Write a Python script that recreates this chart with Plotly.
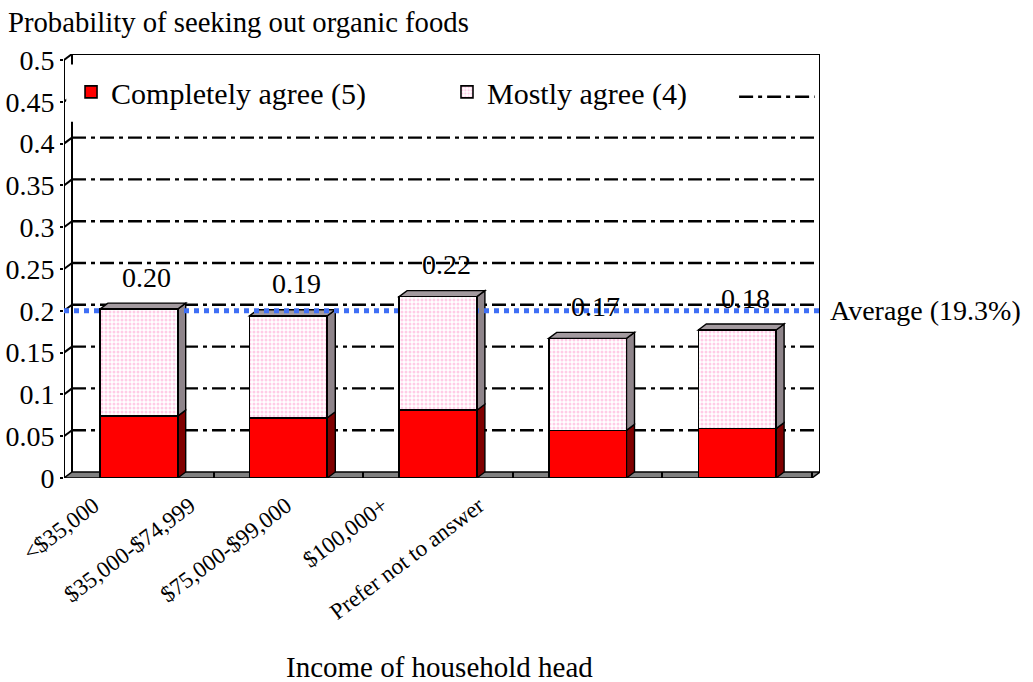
import plotly.graph_objects as go

# Income groups and the two stacked agreement shares
categories = ["<$35,000", "$35,000-$74,999", "$75,000-$99,000", "$100,000+", "Prefer not to answer"]
completely_agree = [0.074, 0.072, 0.081, 0.057, 0.059]
mostly_agree = [0.128, 0.122, 0.136, 0.110, 0.118]
average_share = 0.193
y_ticks = [0, 0.05, 0.1, 0.15, 0.2, 0.25, 0.3, 0.35, 0.4, 0.45, 0.5]

FONT = "Liberation Serif, Times New Roman, serif"
RED = "#FF0000"
PINK_DOT = "#FF9ACD"
BLUE = "#3F6FF5"

# depth of the pseudo-3D box (axis units)
DX = 0.0535
DY = 0.0072
BAR_W = 0.52

n = len(categories)
xs = list(range(n))
totals = [a + b for a, b in zip(completely_agree, mostly_agree)]

fig = go.Figure()

fig.add_trace(go.Bar(
    x=xs, y=completely_agree, width=BAR_W, name="Completely agree (5)",
    marker=dict(color=RED, line=dict(color="black", width=1.6)),
    hoverinfo="skip", legend="legend",
))
fig.add_trace(go.Bar(
    x=xs, y=mostly_agree, width=BAR_W, name="Mostly agree (4)",
    marker=dict(color="white", line=dict(color="black", width=1.6),
                pattern=dict(shape=".", fgcolor=PINK_DOT, bgcolor="white",
                             size=4, solidity=0.45)),
    hoverinfo="skip", legend="legend2",
))
# carrier for the slanted category labels
fig.add_trace(go.Scatter(
    x=xs, y=[0] * n, xaxis="x2", mode="markers",
    marker=dict(opacity=0), showlegend=False, hoverinfo="skip",
))

shapes = []
dashdot = "14px,5px,4px,5px"

# back-wall gridlines and their slant across the left wall
for v in y_ticks[1:-1]:
    shapes.append(dict(type="line", layer="below", xref="x", yref="y",
                       x0=-0.5 + DX, x1=n - 0.5 + DX, y0=v + DY, y1=v + DY,
                       line=dict(color="black", width=2.4, dash=dashdot)))
    shapes.append(dict(type="line", layer="below", xref="x", yref="y",
                       x0=-0.5, x1=-0.5 + DX, y0=v, y1=v + DY,
                       line=dict(color="black", width=2)))

# floor
shapes.append(dict(type="path", layer="below", xref="x", yref="y",
                   path=f"M{-0.5},{0} L{n - 0.5},{0} L{n - 0.5 + DX},{DY} L{-0.5 + DX},{DY} Z",
                   fillcolor="#808080", line=dict(color="black", width=1.5)))

# box frame: left wall, back-top and back-right edges
frame = [
    (-0.5, 0, -0.5, y_ticks[-1]),
    (-0.5 + DX, DY, -0.5 + DX, y_ticks[-1] + DY),
    (-0.5, y_ticks[-1], -0.5 + DX, y_ticks[-1] + DY),
    (-0.5 + DX, y_ticks[-1] + DY, n - 0.5 + DX, y_ticks[-1] + DY),
    (n - 0.5 + DX, DY, n - 0.5 + DX, y_ticks[-1] + DY),
]
for x0, y0, x1, y1 in frame:
    shapes.append(dict(type="line", layer="below", xref="x", yref="y",
                       x0=x0, y0=y0, x1=x1, y1=y1,
                       line=dict(color="black", width=2)))

# side and top faces of each bar
for i in xs:
    xl, xr = i - BAR_W / 2, i + BAR_W / 2
    lo, mid, top = 0, completely_agree[i], totals[i]
    for y0, y1, col in [(lo, mid, "#800000"), (mid, top, "#8E848A")]:
        shapes.append(dict(type="path", layer="below", xref="x", yref="y",
                           path=f"M{xr},{y0} L{xr + DX},{y0 + DY} L{xr + DX},{y1 + DY} L{xr},{y1} Z",
                           fillcolor=col, line=dict(color="black", width=1.4)))
    shapes.append(dict(type="path", layer="below", xref="x", yref="y",
                       path=f"M{xl},{top} L{xl + DX},{top + DY} L{xr + DX},{top + DY} L{xr},{top} Z",
                       fillcolor="#A39A9F", line=dict(color="black", width=1.4)))

# average reference line
shapes.append(dict(type="line", layer="below", xref="x", yref="y",
                   x0=-0.5, x1=n - 0.5 + DX, y0=average_share + DY, y1=average_share + DY,
                   line=dict(color=BLUE, width=5, dash="5px,5px")))

# white band behind the legend row
shapes.append(dict(type="rect", layer="above", xref="paper", yref="paper",
                   x0=0.003, x1=0.995, y0=0.84, y1=0.975,
                   fillcolor="white", line=dict(width=0)))
# dash-dot sample at the end of the legend row
shapes.append(dict(type="line", layer="above", xref="paper", yref="paper",
                   x0=0.893, x1=0.993, y0=0.899, y1=0.899,
                   line=dict(color="black", width=2.4, dash=dashdot)))

annotations = []
for i in xs:
    annotations.append(dict(x=i + DX, y=totals[i], xref="x", yref="y",
                            text=f"{totals[i]:.2f}", showarrow=False,
                            yanchor="middle", yshift=32,
                            font=dict(family=FONT, size=28, color="black")))
annotations.append(dict(x=n - 0.5 + DX, y=average_share + DY, xref="x", yref="y",
                        text=f"Average ({average_share * 100:.1f}%)", showarrow=False,
                        xanchor="left", yanchor="middle", xshift=8,
                        font=dict(family=FONT, size=28, color="black")))
annotations.append(dict(x=0.497, y=-0.445, xref="paper", yref="paper",
                        text="Income of household head", showarrow=False,
                        xanchor="center", yanchor="middle",
                        font=dict(family=FONT, size=29, color="black")))

legend_font = dict(family=FONT, size=30, color="black")

fig.update_layout(
    width=1033, height=682,
    margin=dict(l=64, r=213, t=54, b=204, autoexpand=False),
    paper_bgcolor="white", plot_bgcolor="white",
    barmode="stack",
    title=dict(text="Probability of seeking out organic foods",
               x=8 / 1033, xanchor="left", xref="container",
               y=1 - 22 / 682, yanchor="middle", yref="container",
               font=dict(family=FONT, size=28.7, color="black")),
    font=dict(family=FONT, color="black"),
    xaxis=dict(range=[-0.5, n - 0.5 + DX], showgrid=False, zeroline=False,
               showline=False, showticklabels=False, automargin=False,
               tickvals=[i + 0.5 for i in xs[:-1]] + [n - 0.5],
               ticks="inside", ticklen=6, tickwidth=1.5, tickcolor="black"),
    xaxis2=dict(overlaying="x", anchor="y", side="bottom", automargin=False,
                range=[-0.31, 7.545], showgrid=False, zeroline=False, showline=False,
                tickvals=xs, ticktext=categories, tickangle=-37, ticks="",
                ticklabelstandoff=9,
                tickfont=dict(family=FONT, size=23, color="black")),
    yaxis=dict(range=[0, y_ticks[-1] + DY], showgrid=False, zeroline=False,
               showline=False, tickvals=y_ticks, automargin=False,
               ticktext=[f"{v:g}" for v in y_ticks],
               ticks="outside", ticklen=3, tickwidth=1.5, tickcolor="black",
               tickfont=dict(family=FONT, size=28, color="black")),
    legend=dict(x=0.0093, y=0.972, xanchor="left", yanchor="top",
                bgcolor="rgba(0,0,0,0)", font=legend_font),
    legend2=dict(x=0.5066, y=0.972, xanchor="left", yanchor="top",
                 bgcolor="rgba(0,0,0,0)", font=legend_font),
    shapes=shapes,
    annotations=annotations,
)

fig.write_html("out.html")
